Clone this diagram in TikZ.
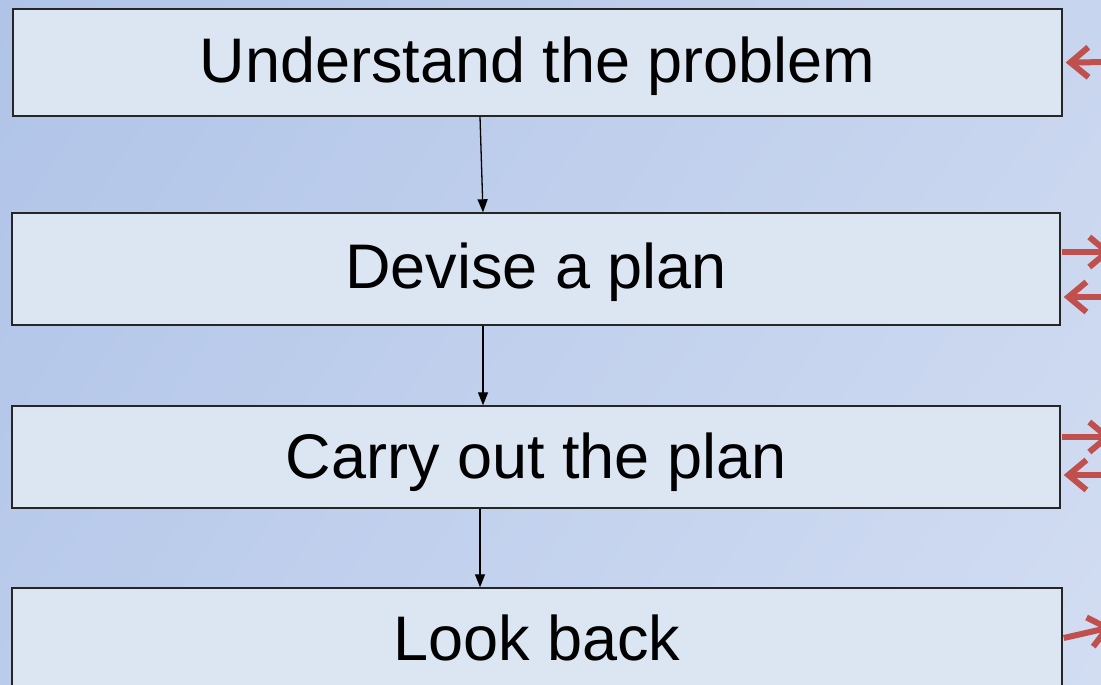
\documentclass[tikz,border=0pt]{standalone}
\usepackage{fontspec}
\setmainfont{Liberation Sans}
\usetikzlibrary{arrows.meta,shadings}
\definecolor{bgTL}{RGB}{176,196,232}
\definecolor{bgTR}{RGB}{200,213,238}
\definecolor{bgBL}{RGB}{186,203,235}
\definecolor{bgBR}{RGB}{210,221,242}
\definecolor{boxfill}{RGB}{220,230,242}
\definecolor{redarrow}{RGB}{192,80,77}
\tikzset{
  stepbox/.style={draw=black!85, line width=1.4pt, fill=boxfill, rectangle,
    inner sep=0pt, text height=45pt, text depth=0pt,
    font=\fontsize{63}{75}\selectfont},
  flow/.style={draw=black, line width=1.3pt, -{Triangle[length=13pt,width=10pt]}},
  redarr/.style={draw=redarrow, line width=6pt, -{Straight Barb[length=18pt,width=30pt]}}
}
\begin{document}
\begin{tikzpicture}[x=1pt,y=-1pt]
\useasboundingbox (0,0) rectangle (1101,685);
\clip (0,0) rectangle (1101,685);
\shade[upper left=bgTL, upper right=bgTR, lower left=bgBL, lower right=bgBR] (0,0) rectangle (1101,685);
\node[stepbox, minimum width=1049pt, minimum height=107pt] (b1) at (537.5,62.5) {\raisebox{3pt}{Understand the problem}};
\node[stepbox, minimum width=1048pt, minimum height=112pt] (b2) at (536,269) {\raisebox{3pt}{Devise a plan}};
\node[stepbox, minimum width=1048pt, minimum height=102pt] (b3) at (536,457) {\raisebox{1pt}{Carry out the plan}};
\node[stepbox, minimum width=1050pt, minimum height=100pt] (b4) at (537,638) {Look back};
\draw[flow] ([xshift=-57.5pt]b1.south) -- ([xshift=-53pt]b2.north);
\draw[flow] ([xshift=-53pt]b2.south) -- ([xshift=-53pt]b3.north);
\draw[flow] ([xshift=-56pt]b3.south) -- ([xshift=-57pt]b4.north);
\coordinate (r1) at (1115,62);
\coordinate (r2a) at (1112,252);
\coordinate (r2b) at (1115,297);
\coordinate (r3a) at (1112,437);
\coordinate (r3b) at (1115,475);
\coordinate (r4) at (1112,627);
\draw[redarr] (r1) -- ([xshift=3pt]b1.east);
\draw[redarr] ([xshift=1pt,yshift=17pt]b2.east) -- (r2a);
\draw[redarr] (r2b) -- ([xshift=3pt,yshift=-28pt]b2.east);
\draw[redarr] ([xshift=1pt,yshift=20pt]b3.east) -- (r3a);
\draw[redarr] (r3b) -- ([xshift=3pt,yshift=-18pt]b3.east);
\draw[redarr] ([xshift=1pt,yshift=0pt]b4.east) -- (r4);
\end{tikzpicture}
\end{document}
